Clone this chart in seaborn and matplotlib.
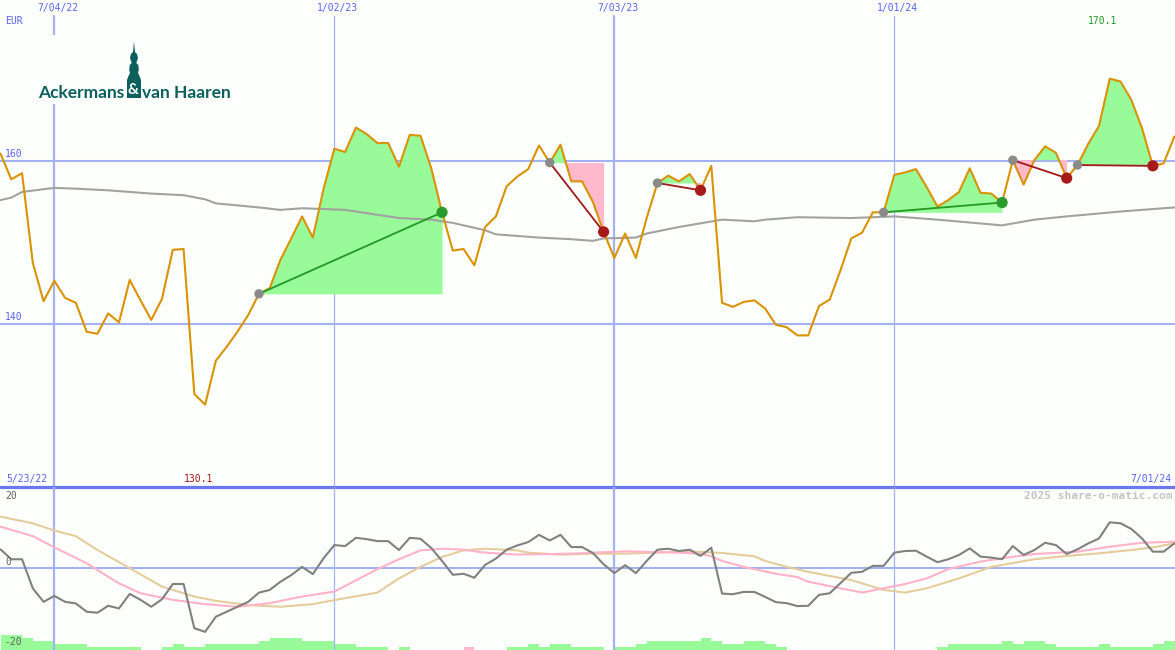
import numpy as np
import pandas as pd
import matplotlib
matplotlib.use("Agg")
import matplotlib.pyplot as plt
import matplotlib.transforms as mtransforms
from matplotlib.patches import Rectangle, Polygon
import seaborn as sns

# ---------------- data ----------------
start = pd.Timestamp("2022-05-30")
weeks = np.arange(110)
dates = start + pd.to_timedelta(weeks * 7, unit="D")

price = [160.9, 157.75, 158.5, 147.5, 142.8, 145.3, 143.2, 142.6, 139.05, 138.8,
         141.3, 140.2, 145.4, 142.9, 140.5, 143.1, 149.1, 149.2, 131.4, 130.1,
         135.5, 137.2, 139.05, 141.1, 143.7, 144.4, 147.9, 150.5, 153.2, 150.6,
         156.6, 161.5, 161.1, 164.1, 163.3, 162.2, 162.2, 159.3, 163.2, 163.1,
         159.1, 153.7, 149.0, 149.2, 147.2, 151.9, 153.2, 156.9, 158.1, 159.0,
         161.9, 159.8, 162.0, 157.5, 157.5, 155.0, 151.3, 148.1, 151.1, 148.1,
         153.0, 157.3, 158.2, 157.5, 158.4, 156.4, 159.4, 142.6, 142.1, 142.7,
         142.9, 141.9, 139.9, 139.6, 138.6, 138.6, 142.2, 143.0, 146.6, 150.5,
         151.2, 153.7, 153.7, 158.3, 158.6, 159.0, 156.8, 154.4, 155.2, 156.2,
         159.1, 156.1, 156.0, 154.9, 160.1, 157.1, 160.1, 161.8, 161.0, 157.9,
         159.5, 162.1, 164.3, 170.1, 169.75, 167.5, 164.0, 159.4, 159.7, 163.0]

ma_wk = [0, 1, 2, 5, 7, 10, 14, 17, 19, 20, 24, 26, 28, 32, 35, 37, 40, 42, 45, 46,
         50, 53, 55, 56, 59, 60, 63, 67, 70, 71, 74, 79, 83, 87, 93, 96, 99, 104, 109]
ma_val = [155.2, 155.5, 156.2, 156.7, 156.6, 156.4, 156.0, 155.8, 155.3, 154.8,
          154.3, 154.0, 154.2, 154.0, 153.4, 153.0, 152.8, 152.4, 151.5, 151.0,
          150.6, 150.4, 150.2, 150.5, 150.6, 151.1, 151.9, 152.8, 152.6, 152.8,
          153.1, 153.0, 153.2, 152.8, 152.1, 152.8, 153.2, 153.8, 154.3]

osc = [5.5, 2.5, 2.5, -6.3, -10.4, -8.6, -10.4, -10.9, -13.4, -13.7,
       -11.6, -12.4, -8.0, -9.8, -11.9, -9.6, -5.0, -5.0, -18.4, -19.5,
       -14.9, -13.4, -11.9, -10.4, -7.6, -6.8, -4.3, -2.3, 0.2, -2.0,
       2.8, 6.8, 6.5, 9.0, 8.6, 8.0, 8.0, 5.3, 9.0, 8.7,
       5.9, 2.0, -2.2, -1.9, -3.1, 0.8, 2.7, 5.4, 6.7, 7.7,
       9.9, 8.2, 9.9, 6.2, 6.2, 4.4, 1.0, -1.7, 0.7, -1.7,
       2.0, 5.4, 5.7, 5.0, 5.4, 3.5, 6.0, -7.9, -8.1, -7.4,
       -7.4, -8.9, -10.5, -10.8, -11.7, -11.6, -8.3, -7.8, -4.7, -1.6,
       -1.3, 0.5, 0.5, 4.5, 5.0, 5.1, 3.3, 1.6, 2.5, 3.8,
       5.8, 3.3, 3.0, 2.5, 6.5, 3.8, 5.3, 7.5, 6.8, 4.1,
       5.5, 7.3, 8.8, 13.7, 13.4, 11.7, 8.8, 4.8, 4.8, 7.3]

pink_wk = [0, 3, 5, 8, 11, 13, 16, 19, 22, 25, 28, 31, 33, 35, 37, 39, 41, 43, 45, 48,
           53, 58, 63, 65, 66, 67, 69, 72, 74, 75, 78, 80, 82, 84, 86, 88, 91, 93, 96,
           100, 103, 106, 109]
pink_val = [12.4, 9.5, 6.1, 1.3, -4.8, -7.8, -9.8, -11.1, -11.9, -10.8, -8.8, -7.3,
            -3.9, -0.5, 2.5, 5.2, 5.7, 5.4, 4.5, 3.9, 4.2, 4.9, 4.5, 4.2, 3.4, 2.0,
            0.2, -1.9, -2.9, -4.3, -6.3, -7.6, -6.3, -5.0, -3.3, -0.5, 1.8, 2.8, 4.1,
            4.8, 6.3, 7.5, 7.8]

tan_wk = [0, 3, 5, 7, 9, 12, 15, 18, 20, 23, 26, 29, 32, 35, 37, 39, 41, 43, 45, 48,
          49, 52, 55, 58, 61, 64, 67, 70, 71, 73, 75, 79, 82, 84, 86, 89, 92, 96, 99,
          102, 105, 107, 109]
tan_val = [15.4, 13.4, 11.2, 9.5, 5.3, -0.2, -5.8, -8.8, -10.1, -11.4, -11.9, -11.1,
           -9.3, -7.6, -3.3, 0.2, 3.2, 5.2, 5.7, 5.2, 4.5, 3.9, 4.2, 4.2, 4.5, 4.9,
           4.4, 3.4, 2.0, 0.2, -1.3, -3.8, -6.8, -7.6, -6.3, -3.3, 0.2, 2.5, 3.5,
           4.3, 5.3, 6.1, 7.3]

bars = [5, 5, 4, 3, 3, 2, 2, 2, 1, 1, 1, 1, 1,
        0, 0, 1, 2, 1, 1, 2, 2, 2, 2, 2, 3,
        4, 4, 4, 3, 3, 3, 2, 2, 1, 1, 1, 0,
        1, 0, 0, 0, 0, 0, -1, 0, 0, 0, 1, 1,
        2, 1, 2, 2, 1, 1, 1, 0, 1, 1, 2, 3,
        3, 3, 3, 3, 4, 3, 2, 2, 3, 3, 2, 1,
        0, 0, 0, 0, 0, 0, 0, 0, 0, 0, 0, 0, 0, 0,
        1, 2, 2, 2, 2, 2, 3, 2, 3, 3, 2, 1,
        1, 1, 1, 2, 1, 1, 1, 1, 2, 3, 3]

trades = [(24, 41), (51, 56), (61, 65), (82, 93), (94, 99), (100, 107)]

grid_dates = pd.to_datetime(["2022-07-04", "2023-01-02", "2023-07-03", "2024-01-01"])
grid_labels = ["7/04/22", "1/02/23", "7/03/23", "1/01/24"]
grid_thick = [True, False, True, False]

# ---------------- style ----------------
BG = "#fdfffd"
GRID = "#a4b2f2"
SEP = "#6a78f0"
LBLUE = "#5664f0"
PRICE = "#d99200"
MA = "#a2a2a2"
OSC = "#808080"
SIGP = "#ffb2c8"
SIGT = "#e4cc9c"
FILLG = "#98fa98"
FILLP = "#ffb8cc"
TRG = "#229922"
TRR = "#a01818"
TEAL = "#0b605c"

sns.set_theme(style="white")
plt.rcParams["font.family"] = ["DejaVu Sans Mono", "DejaVu Sans"]

fig = plt.figure(figsize=(11.75, 6.5), dpi=100)
fig.patch.set_facecolor(BG)
ax1 = fig.add_axes([0, 163 / 650, 1, 487 / 650])
ax2 = fig.add_axes([0, 0, 1, 163 / 650])
ax3 = ax2.twinx()
for a in (ax1, ax2, ax3):
    a.set_axis_off()

xl = (start - pd.Timedelta(days=0.325), start + pd.Timedelta(days=763.4))
for a in (ax1, ax2, ax3):
    a.set_xlim(xl)
ax1.set_ylim(120, 179.75)
ax2.set_ylim(-25.0, 24.4)
ax3.set_ylim(0, 163 / 3)
ax2.set_zorder(ax3.get_zorder() + 1)

# ---------------- upper panel ----------------
ax1.axhline(160, color=GRID, lw=1.5, zorder=0)
ax1.axhline(140, color=GRID, lw=1.5, zorder=0)
ax1.axhline(120, color=SEP, lw=2.3, zorder=1, clip_on=False)
for d, thick in zip(grid_dates, grid_thick):
    ax1.axvline(d, ymin=0, ymax=1 - 16 / 487, color=GRID, lw=1.6 if thick else 0.9, zorder=0)
    ax2.axvline(d, color=GRID, lw=1.6 if thick else 0.9, zorder=0)

for e, x in trades:
    d = dates[e:x + 1]
    p = np.array(price[e:x + 1])
    entry = price[e]
    ax1.fill_between(d, entry, p, where=p >= entry, interpolate=True,
                     color=FILLG, lw=0, zorder=2)
    ax1.fill_between(d, entry, p, where=p < entry, interpolate=True,
                     color=FILLP, lw=0, zorder=2)

sns.lineplot(x=dates[ma_wk], y=ma_val, ax=ax1, color=MA, lw=1.5, zorder=3,
             sort=False, estimator=None)
sns.lineplot(x=dates, y=price, ax=ax1, color=PRICE, lw=1.5, zorder=4,
             sort=False, estimator=None)

for e, x in trades:
    win = price[x] > price[e]
    c = TRG if win else TRR
    ax1.plot([dates[e], dates[x]], [price[e], price[x]], color=c, lw=1.3, zorder=5)
    sns.scatterplot(x=[dates[e]], y=[price[e]], ax=ax1, color="#8a8a8a", s=45,
                    edgecolor="none", zorder=6)
    sns.scatterplot(x=[dates[x]], y=[price[x]], ax=ax1, color="#2a9a2a" if win else "#a81a1a",
                    s=65, edgecolor="none", zorder=6)

# ---------------- lower panel ----------------
ax2.axhline(0, color=GRID, lw=1.5, zorder=0)
bar_colors = [FILLG if v >= 0 else FILLP for v in bars]
ax3.bar(dates, np.abs(bars), width=7, align="edge", color=bar_colors, lw=0)
sns.lineplot(x=dates[tan_wk], y=tan_val, ax=ax2, color=SIGT, lw=1.5, zorder=2,
             sort=False, estimator=None)
sns.lineplot(x=dates[pink_wk], y=pink_val, ax=ax2, color=SIGP, lw=1.5, zorder=3,
             sort=False, estimator=None)
sns.lineplot(x=dates, y=osc, ax=ax2, color=OSC, lw=1.5, zorder=4,
             sort=False, estimator=None)

# ---------------- texts ----------------
bl1 = mtransforms.blended_transform_factory(ax1.transData, ax1.transAxes)
for d, lab in zip(grid_dates, grid_labels):
    ax1.text(d + pd.Timedelta(days=2), 1 - 8 / 487, lab, transform=bl1, ha="center",
             va="center", color=LBLUE, fontsize=7)
bl2 = mtransforms.blended_transform_factory(ax1.transAxes, ax1.transData)
for v in (160, 140):
    ax1.text(0.004, v + 0.25, str(v), transform=bl2, ha="left", va="bottom",
             color=LBLUE, fontsize=7)

axo = fig.add_axes([0, 0, 1, 1])
axo.set_xlim(0, 1175)
axo.set_ylim(650, 0)
axo.set_axis_off()
axo.set_zorder(10)

axo.text(5, 21, "EUR", color=LBLUE, fontsize=7, ha="left", va="center")
axo.text(6, 479, "5/23/22", color=LBLUE, fontsize=7, ha="left", va="center")
axo.text(199, 479, f"{min(price):.1f}", color="#a01818", fontsize=7, ha="center", va="center")
axo.text(1103, 21, f"{max(price):.1f}", color="#229922", fontsize=7, ha="center", va="center")
axo.text(1171, 479, "7/01/24", color=LBLUE, fontsize=7, ha="right", va="center")
axo.text(1172, 496, "2025 share-o-matic.com", color="#c4c4c4", fontsize=8,
         fontweight="bold", ha="right", va="center")
axo.text(5, 496, "20", color="#606060", fontsize=7, ha="left", va="center")
axo.text(5, 562, "0", color="#606060", fontsize=7, ha="left", va="center")
axo.text(4, 642, "-20", color="#606060", fontsize=7, ha="left", va="center")

# logo
axo.add_patch(Rectangle((36, 35), 199, 69, facecolor=BG, edgecolor="none", zorder=1))
spire = [(134, 41.5), (135, 52), (137, 54), (138, 58), (137, 61), (136.3, 63),
         (138.3, 65), (138.8, 70), (138, 73), (139.5, 76), (141, 80),
         (127, 80), (128.5, 76), (130, 73), (129.2, 70), (129.7, 65), (131.7, 63),
         (131, 61), (130, 58), (131, 54), (133, 52)]
axo.add_patch(Polygon(spire, closed=True, facecolor=TEAL, edgecolor="none", zorder=2))
axo.add_patch(Rectangle((126.5, 79.5), 14, 18.5, facecolor=TEAL, edgecolor="none", zorder=2))
axo.text(133.5, 89.5, "&", color="white", fontsize=11, fontweight="bold",
         family=["Lato", "DejaVu Sans"], ha="center", va="center", zorder=3)
axo.text(124.5, 97.5, "Ackermans", color=TEAL, fontsize=12.5, fontweight="bold",
         family=["Lato", "DejaVu Sans"], ha="right", va="baseline", zorder=3)
axo.text(142, 97.5, "van Haaren", color=TEAL, fontsize=12.5, fontweight="bold",
         family=["Lato", "DejaVu Sans"], ha="left", va="baseline", zorder=3)

fig.savefig("out.png", dpi=100, facecolor=BG)
